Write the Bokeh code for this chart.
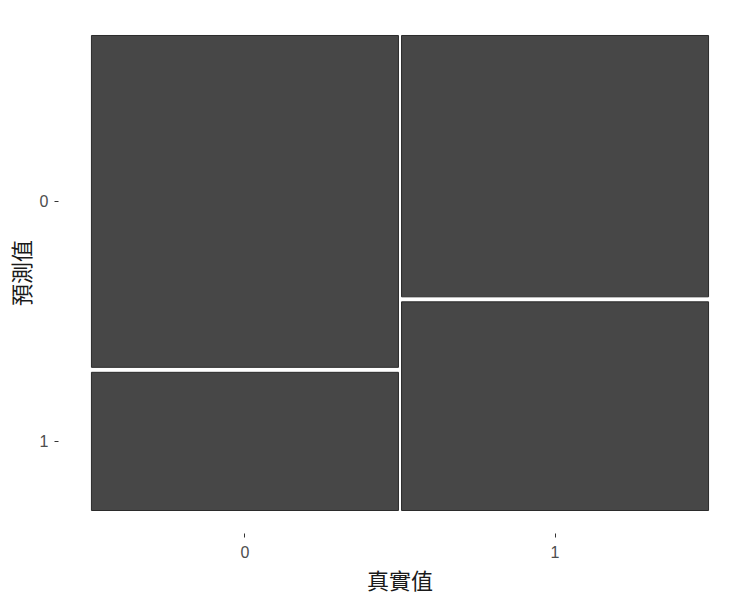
from bokeh.plotting import figure
from bokeh.models import Range1d, FixedTicker, ColumnDataSource
from bokeh.embed import file_html
from bokeh.resources import INLINE

# Confusion-matrix counts (estimated from the mosaic)
true_labels = ["0", "1"]
pred_labels = ["0", "1"]
counts_true0 = [353, 147]   # predicted 0, predicted 1 for true 0
counts_true1 = [278, 222]   # predicted 0, predicted 1 for true 1
counts = [counts_true0, counts_true1]

gap_x = 0.005
gap_y = 0.0105

col_tot = [sum(c) for c in counts]
grand = sum(col_tot)

left, right, top, bottom = [], [], [], []
x_centers = []
y_centers_first = []
xpos = 0.0
for i, c in enumerate(counts):
    w = col_tot[i] / grand * (1 - gap_x * (len(counts) - 1))
    x0, x1 = xpos, xpos + w
    x_centers.append((x0 + x1) / 2)
    ypos = 0.0
    for j, v in enumerate(c):
        h = v / col_tot[i] * (1 - gap_y * (len(c) - 1))
        y0, y1 = ypos, ypos + h
        left.append(x0); right.append(x1); top.append(y0); bottom.append(y1)
        if i == 0:
            y_centers_first.append((y0 + y1) / 2)
        ypos = y1 + gap_y
    xpos = x1 + gap_x

src = ColumnDataSource(dict(left=left, right=right, top=top, bottom=bottom))

p = figure(width=750, height=600, output_backend="svg", toolbar_location=None,
           x_range=Range1d(-0.0534, 1.0534), y_range=Range1d(1.0484, -0.0484),
           min_border_left=56, min_border_right=9, min_border_top=12, min_border_bottom=67)
p.quad(left="left", right="right", top="top", bottom="bottom", source=src,
       fill_color="#474747", line_color="#2b2b2b", line_width=1)

p.grid.visible = False
p.outline_line_color = None
p.background_fill_color = "white"
p.border_fill_color = "white"

for ax in (p.xaxis[0], p.yaxis[0]):
    ax.axis_line_color = None
    ax.major_tick_out = 4
    ax.major_tick_in = 0
    ax.minor_tick_line_color = None
    ax.major_tick_line_color = "#333333"
    ax.major_tick_line_width = 1
    ax.major_label_text_font = "Liberation Sans"
    ax.major_label_text_font_size = "16px"
    ax.major_label_text_color = "#4d4d4d"
    ax.axis_label_text_font = "Noto Sans CJK TC"
    ax.axis_label_text_font_size = "22px"
    ax.axis_label_text_font_style = "normal"
    ax.axis_label_text_color = "#1a1a1a"

p.xaxis.ticker = FixedTicker(ticks=x_centers)
p.xaxis.major_label_overrides = {x: t for x, t in zip(x_centers, true_labels)}
p.yaxis.ticker = FixedTicker(ticks=y_centers_first)
p.yaxis.major_label_overrides = {y: t for y, t in zip(y_centers_first, pred_labels)}
p.xaxis.axis_label = "真實值"
p.yaxis.axis_label = "預測值"
p.xaxis.major_label_standoff = 8
p.yaxis.major_label_standoff = 6
p.xaxis.axis_label_standoff = 2
p.yaxis.axis_label_standoff = 1

open("out.html", "w").write(file_html(p, INLINE))
